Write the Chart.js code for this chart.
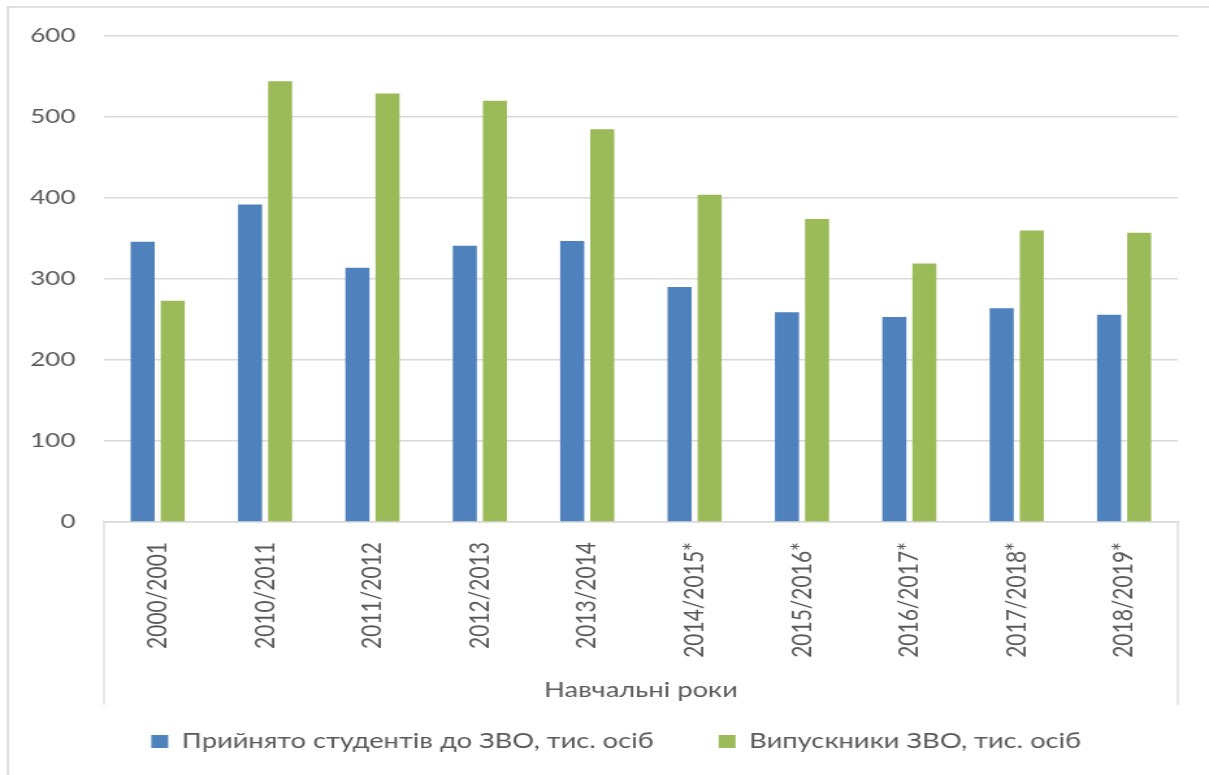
<!DOCTYPE html>
<html lang="uk">
<head>
  <meta charset="UTF-8">
  <title>Прийнято студентів та випускники ЗВО</title>
  <script src="https://cdn.jsdelivr.net/npm/chart.js"></script>
  <style>
    body { margin: 0; background: #fff; overflow: hidden; }
    #chart { display: block; transform: scaleX(1.3); transform-origin: 0 0; }
  </style>
</head>
<body>
  <canvas id="chart" width="930" height="775"></canvas>
  <script>
    const years = ['2000/2001', '2010/2011', '2011/2012', '2012/2013', '2013/2014',
      '2014/2015*', '2015/2016*', '2016/2017*', '2017/2018*', '2018/2019*'];
    const admitted = [346, 392, 314, 341, 347, 290, 259, 253, 264, 256];
    const graduates = [273, 544, 529, 520, 485, 404, 374, 319, 360, 357];
    const yTicks = [0, 100, 200, 300, 400, 500, 600];

    const textColor = '#595959';
    const lineColor = '#d9d9d9';
    const font = 'Lato';

    // outer frame and the box round the category labels, like in Excel
    const framePlugin = {
      id: 'frame',
      afterLayout(chart) {
        // legend in the original sits a bit right of the canvas centre
        chart.legend.left += 21;
        chart.legend.right += 21;
      },
      beforeDraw(chart) {
        const ctx = chart.ctx;
        ctx.save();
        ctx.strokeStyle = lineColor;
        ctx.lineWidth = 1.6;
        ctx.strokeRect(6, 7, chart.width + 20, chart.height + 20);
        ctx.restore();
      },
      afterDraw(chart) {
        const ctx = chart.ctx;
        const area = chart.chartArea;
        const bottom = chart.scales.x.bottom + 24;
        ctx.save();
        ctx.strokeStyle = lineColor;
        ctx.lineWidth = 1.2;
        ctx.beginPath();
        ctx.moveTo(area.left, area.bottom);
        ctx.lineTo(area.left, bottom);
        ctx.moveTo(area.right, area.bottom);
        ctx.lineTo(area.right, bottom);
        ctx.stroke();
        ctx.restore();
      }
    };

    const ctx = document.getElementById('chart').getContext('2d');
    const myChart = new Chart(ctx, {
      type: 'bar',
      data: {
        labels: years,
        datasets: [
          {
            label: 'Прийнято студентів до ЗВО, тис. осіб',
            data: admitted,
            backgroundColor: '#4f81bd'
          },
          {
            label: 'Випускники ЗВО, тис. осіб',
            data: graduates,
            backgroundColor: '#9bbb59'
          }
        ]
      },
      options: {
        responsive: false,
        animation: false,
        devicePixelRatio: 1,
        layout: { padding: { left: 0, right: 24, top: 36, bottom: 13 } },
        datasets: { bar: { barPercentage: 0.8, categoryPercentage: 0.56 } },
        scales: {
          x: {
            grid: { display: false },
            border: { display: true, color: lineColor, width: 1.5 },
            ticks: {
              autoSkip: false,
              minRotation: 90,
              maxRotation: 90,
              padding: 12,
              color: textColor,
              font: { family: font, size: 21 }
            },
            title: {
              display: true,
              text: 'Навчальні роки',
              color: textColor,
              font: { family: font, size: 21 },
              padding: { top: 0, bottom: -22 }
            },
            afterFit(scale) { scale.height = 159; }
          },
          y: {
            min: 0,
            max: 600,
            afterBuildTicks(scale) { scale.ticks = yTicks.map(v => ({ value: v })); },
            grid: { color: lineColor, lineWidth: 1.5, drawTicks: false },
            border: { display: false },
            ticks: {
              padding: 22,
              color: textColor,
              font: { family: font, size: 20 }
            },
            afterFit(scale) { scale.width = 80; }
          }
        },
        plugins: {
          legend: {
            position: 'bottom',
            labels: {
              boxWidth: 13,
              boxHeight: 13,
              padding: 50,
              color: textColor,
              font: { family: font, size: 21 }
            }
          },
          tooltip: { enabled: false }
        }
      },
      plugins: [framePlugin]
    });
  </script>
</body>
</html>
